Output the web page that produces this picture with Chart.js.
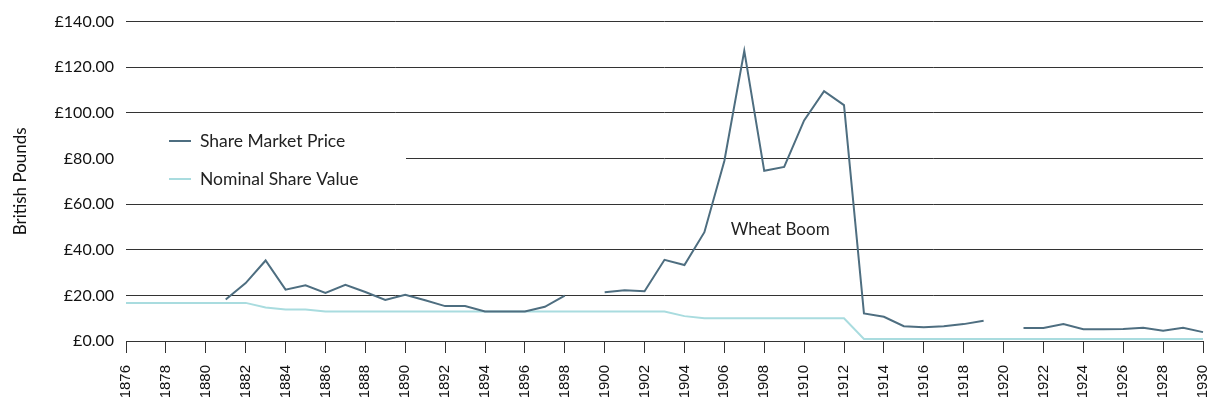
<!DOCTYPE html>
<html>
<head>
<meta charset="utf-8">
<script src="https://cdn.jsdelivr.net/npm/chart.js@4"></script>
<style>
  html, body { margin: 0; padding: 0; background: #fff; }
  #wrap { width: 1209px; height: 413px; position: relative; }
</style>
</head>
<body>
<div id="wrap"><canvas id="chart"></canvas></div>
<script>
const years = [];
for (let y = 1876; y <= 1930; y++) years.push(String(y));

// Share market price, pounds (null = no quote)
const marketPrice = [
  null, null, null, null, null, 18.2, 25.4, 35.3, 22.5, 24.4,
  21.1, 24.6, 21.5, 18.0, 20.3, 17.9, 15.3, 15.3, 12.9, 12.9,
  12.9, 15.0, 19.9, null, 21.4, 22.2, 21.8, 35.6, 33.3, 47.7,
  78.9, 127.2, 74.6, 76.3, 96.7, 109.5, 103.4, 12.1, 10.6, 6.5,
  6.0, 6.5, 7.4, 8.9, null, 5.7, 5.7, 7.4, 5.2, 5.2,
  5.3, 5.8, 4.5, 5.8, 3.9
];

// Nominal share value, pounds
const nominalValue = [
  16.7, 16.7, 16.7, 16.7, 16.7, 16.7, 16.7, 14.7, 13.8, 13.8,
  12.9, 12.9, 12.9, 12.9, 12.9, 12.9, 12.9, 12.9, 12.9, 12.9,
  12.9, 12.9, 12.9, 12.9, 12.9, 12.9, 12.9, 12.9, 10.9, 10.0,
  10.0, 10.0, 10.0, 10.0, 10.0, 10.0, 10.0, 0.9, 0.9, 0.9,
  0.9, 0.9, 0.9, 0.9, 0.9, 0.9, 0.9, 0.9, 0.9, 0.9,
  0.9, 0.9, 0.9, 0.9, 0.9
];

const seriesNames = ['Share Market Price', 'Nominal Share Value'];
const seriesColors = ['#4e6e80', '#a9dcdf'];
const annotation = { text: 'Wheat Boom', year: '1909', value: 49 };

const textFont = 'Lato, "Noto Sans", sans-serif';

// legend box sits over the grid, top-left of the plot
const legendPlugin = {
  id: 'boxLegend',
  afterDatasetsDraw(chart) {
    const { ctx, chartArea } = chart;
    ctx.save();
    ctx.fillStyle = '#fff';
    ctx.fillRect(chartArea.left, 122, 280, 72);
    ctx.font = '17.5px ' + textFont;
    ctx.textBaseline = 'middle';
    seriesNames.forEach((name, i) => {
      const y = 141 + i * 38;
      ctx.strokeStyle = seriesColors[i];
      ctx.lineWidth = 2;
      ctx.beginPath();
      ctx.moveTo(169, y);
      ctx.lineTo(191, y);
      ctx.stroke();
      ctx.fillStyle = '#222';
      ctx.fillText(name, 200, y);
    });
    ctx.restore();
  }
};

const labelPlugin = {
  id: 'wheatBoom',
  afterDatasetsDraw(chart) {
    const { ctx, scales } = chart;
    const x = scales.x.getPixelForValue(years.indexOf(annotation.year));
    const y = scales.y.getPixelForValue(annotation.value);
    ctx.save();
    ctx.font = '17px ' + textFont;
    ctx.fillStyle = '#222';
    ctx.textAlign = 'center';
    ctx.textBaseline = 'middle';
    ctx.fillText(annotation.text, x - 4, y);
    ctx.restore();
  }
};

new Chart(document.getElementById('chart'), {
  type: 'line',
  data: {
    labels: years,
    datasets: [
      {
        label: seriesNames[0],
        data: marketPrice,
        borderColor: seriesColors[0],
        borderWidth: 2,
        pointRadius: 0,
        tension: 0,
        spanGaps: false
      },
      {
        label: seriesNames[1],
        data: nominalValue,
        borderColor: seriesColors[1],
        borderWidth: 2,
        pointRadius: 0,
        tension: 0
      }
    ]
  },
  options: {
    responsive: true,
    maintainAspectRatio: false,
    animation: false,
    layout: { padding: { top: 20, right: 6, left: 0, bottom: 0 } },
    plugins: {
      legend: { display: false },
      tooltip: { enabled: false }
    },
    scales: {
      x: {
        offset: false,
        grid: {
          drawOnChartArea: false,
          drawTicks: true,
          tickLength: 12,
          color: '#333'
        },
        border: { display: true, color: '#333' },
        ticks: {
          autoSkip: false,
          maxRotation: 90,
          minRotation: 90,
          padding: 12,
          color: '#111',
          font: { family: '"Liberation Sans", Arial, sans-serif', size: 15 },
          callback: function (v, i) { return i % 2 === 0 ? years[i] : null; }
        },
        afterFit: s => {
          s.height = 72;
          s.paddingLeft = 0;
          s.paddingRight = 0;
        }
      },
      y: {
        min: 0,
        max: 140,
        grid: { color: '#333', drawTicks: false },
        border: { display: false },
        ticks: {
          stepSize: 20,
          padding: 12,
          color: '#111',
          font: { family: textFont, size: 16 },
          callback: v => '£' + v.toFixed(2)
        },
        title: {
          display: true,
          text: 'British Pounds',
          color: '#111',
          font: { family: textFont, size: 17 },
          padding: { top: 10, bottom: 0 }
        },
        afterFit: s => { s.width = 126; }
      }
    }
  },
  plugins: [legendPlugin, labelPlugin]
});
</script>
</body>
</html>
